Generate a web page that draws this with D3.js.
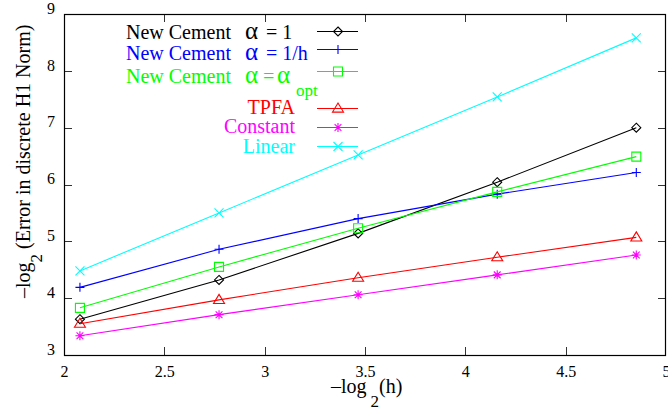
<!DOCTYPE html>
<html>
<head>
<meta charset="utf-8">
<script src="https://cdn.jsdelivr.net/npm/d3@7"></script>
<style>
  html, body { margin: 0; padding: 0; background: #fff; }
  svg { display: block; }
  text { font-family: "Liberation Serif", "DejaVu Serif", serif; }
</style>
</head>
<body>
<svg id="chart" width="668" height="410"></svg>
<script>
// ---- data ----
const xValues = [2.0794, 2.7726, 3.4657, 4.1589, 4.8520];
const seriesNames = ["New Cement \u03b1 = 1", "New Cement \u03b1 = 1/h", "New Cement \u03b1 =\u03b1opt", "TPFA", "Constant", "Linear"];
const alpha1 = [3.63, 4.32, 5.14, 6.04, 7.00];
const alphaInvH = [4.19, 4.86, 5.40, 5.83, 6.21];
const alphaOpt = [3.83, 4.55, 5.23, 5.87, 6.49];
const tpfa = [3.55, 3.97, 4.36, 4.72, 5.07];
const constant = [3.34, 3.71, 4.06, 4.41, 4.76];
const linear = [4.48, 5.50, 6.52, 7.54, 8.58];
const xTicks = [2, 2.5, 3, 3.5, 4, 4.5, 5];
const yTicks = [3, 4, 5, 6, 7, 8, 9];

const colors = ["#000000", "#0000ff", "#00ff00", "#ff0000", "#ff00ff", "#00ffff"];
const markers = ["diamond", "plus", "square", "triangle", "star", "cross"];
const allSeries = [alpha1, alphaInvH, alphaOpt, tpfa, constant, linear];

const svg = d3.select("#chart");
const W = 668, H = 410;
const m = { left: 64, right: 2, top: 14, bottom: 55 };
const x = d3.scaleLinear().domain([2, 5]).range([m.left, W - m.right]);
const y = d3.scaleLinear().domain([3, 9]).range([H - m.bottom, m.top]);

function markerPath(type) {
  const s = 4.5;
  switch (type) {
    case "diamond": return `M0,${-s}L${s},0L0,${s}L${-s},0Z`;
    case "plus": return `M${-s},0H${s}M0,${-s}V${s}`;
    case "square": return `M${-s},${-s}H${s}V${s}H${-s}Z`;
    case "triangle": { const t = 5.5; return `M0,${-t}L${t},${t*0.65}L${-t},${t*0.65}Z`; }
    case "star": return `M${-s},0H${s}M0,${-s}V${s}M${-s*0.75},${-s*0.75}L${s*0.75},${s*0.75}M${-s*0.75},${s*0.75}L${s*0.75},${-s*0.75}`;
    case "cross": return `M${-s},${-s}L${s},${s}M${-s},${s}L${s},${-s}`;
  }
}

// ticks (inward) on all four sides
const tickLen = 8;
const tg = svg.append("g").attr("stroke", "#333").attr("stroke-width", 1);
xTicks.slice(1, -1).forEach(v => {
  const px = Math.round(x(v)) + 0.5;
  tg.append("line").attr("x1", px).attr("x2", px).attr("y1", y(3)).attr("y2", y(3) - tickLen);
  tg.append("line").attr("x1", px).attr("x2", px).attr("y1", y(9)).attr("y2", y(9) + tickLen);
});
yTicks.slice(1, -1).forEach(v => {
  const py = Math.round(y(v)) + 0.5;
  tg.append("line").attr("x1", x(2)).attr("x2", x(2) + tickLen).attr("y1", py).attr("y2", py);
  tg.append("line").attr("x1", x(5)).attr("x2", x(5) - tickLen).attr("y1", py).attr("y2", py);
});

// axes via d3 for labels
const xAxis = d3.axisBottom(x).tickValues(xTicks).tickSize(0).tickPadding(11).tickFormat(d3.format("~g"));
const gx = svg.append("g").attr("transform", `translate(0,${H - m.bottom})`).call(xAxis);
gx.select(".domain").remove();
gx.selectAll("text").attr("font-size", 16).attr("fill", "#000").style("font-family", "Liberation Serif, serif");

const yAxis = d3.axisLeft(y).tickValues(yTicks).tickSize(0).tickPadding(9).tickFormat(d3.format("~g"));
const gy = svg.append("g").attr("transform", `translate(${m.left},0)`).call(yAxis);
gy.select(".domain").remove();
gy.selectAll("text").attr("font-size", 16).attr("fill", "#000").attr("dy", "-0.05em").style("font-family", "Liberation Serif, serif");

// frame
svg.append("rect").attr("x", m.left + 0.5).attr("y", m.top + 0.5)
  .attr("width", W - m.left - m.right - 1).attr("height", H - m.top - m.bottom)
  .attr("fill", "none").attr("stroke", "#000").attr("stroke-width", 1.2);

// series
const line = d3.line().x((d, i) => x(xValues[i])).y(d => y(d));
allSeries.forEach((vals, k) => {
  const g = svg.append("g");
  g.append("path").attr("d", line(vals)).attr("fill", "none").attr("stroke", colors[k]).attr("stroke-width", 1.1);
  g.selectAll("path.mk").data(vals).join("path").attr("class", "mk")
    .attr("transform", (d, i) => `translate(${x(xValues[i])},${y(d)})`)
    .attr("d", markerPath(markers[k]))
    .attr("fill", "none").attr("stroke", colors[k]).attr("stroke-width", 1.1);
});

// legend
const legRows = [31.5, 49.5, 71.5, 108.5, 127.5, 146.5];
const lx1 = 317, lx2 = 358, lmx = 338;
const leg = svg.append("g");
legRows.forEach((ly, k) => {
  leg.append("line").attr("x1", lx1).attr("x2", lx2).attr("y1", ly).attr("y2", ly)
    .attr("stroke", colors[k]).attr("stroke-width", 1.1);
  leg.append("path").attr("transform", `translate(${lmx},${ly})`).attr("d", markerPath(markers[k]))
    .attr("fill", "none").attr("stroke", colors[k]).attr("stroke-width", 1.1);
});
const fs = 20;
const baselines = [39, 60, 83, 114, 133, 153];
function txt(xp, yp, s, col, size, anchor) {
  return leg.append("text").attr("x", xp).attr("y", yp).attr("font-size", size || fs)
    .attr("fill", col).attr("text-anchor", anchor || "start").text(s);
}
// rows 1-3: "New Cement" + alpha expressions
[0, 1, 2].forEach(k => txt(231, baselines[k], "New Cement", colors[k], fs, "end"));
txt(245, baselines[0], "\u03b1", colors[0], 25);
txt(266, baselines[0], "= 1", colors[0]);
txt(245, baselines[1], "\u03b1", colors[1], 25);
txt(266, baselines[1], "= 1/h", colors[1]);
txt(245, baselines[2], "\u03b1", colors[2], 25);
txt(263, baselines[2], "=", colors[2]);
txt(277, baselines[2], "\u03b1", colors[2], 25);
txt(296, baselines[2] + 13, "opt", colors[2], 17);
["TPFA", "Constant", "Linear"].forEach((s, i) => txt(295, baselines[3 + i], s, colors[3 + i], fs, "end"));

// axis titles
const xt = svg.append("text").attr("x", 331).attr("y", 393).attr("font-size", 20).attr("fill", "#000");
xt.append("tspan").text("\u2013log");
xt.append("tspan").attr("dy", 14).attr("font-size", 17).attr("dx", 4).text("2");
xt.append("tspan").attr("dy", -14).text("(h)");

const yt = svg.append("text").attr("transform", "translate(30,298) rotate(-90)").attr("font-size", 20).attr("fill", "#000");
yt.append("tspan").text("\u2013log");
yt.append("tspan").attr("dy", 12).attr("font-size", 17).text("2");
yt.append("tspan").attr("dy", -12).text(" (Error in discrete H1 Norm)");
</script>
</body>
</html>
